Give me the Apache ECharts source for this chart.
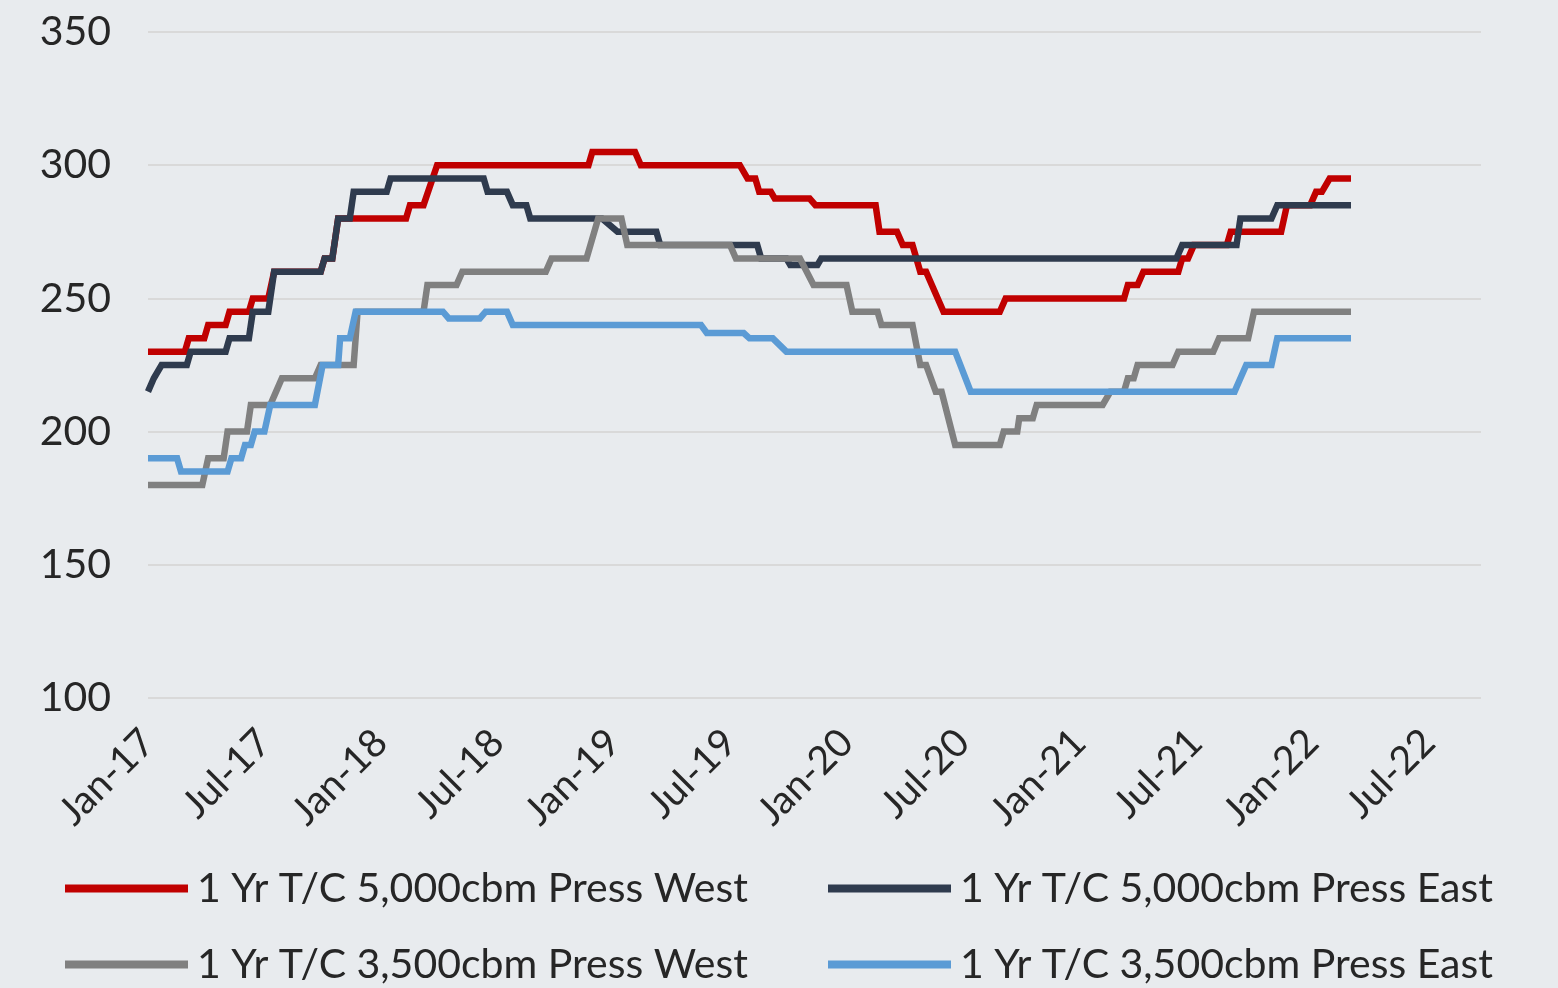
<!DOCTYPE html>
<html>
<head>
<meta charset="utf-8">
<script src="https://cdn.jsdelivr.net/npm/echarts@6/dist/echarts.min.js"></script>
<style>
html,body{margin:0;padding:0;background:#e8ebee;}
#chart{width:1558px;height:988px;}
</style>
</head>
<body>
<div id="chart"></div>
<script>
// x = months since Jan-2017
const xTickLabels = ['Jan-17','Jul-17','Jan-18','Jul-18','Jan-19','Jul-19','Jan-20','Jul-20','Jan-21','Jul-21','Jan-22','Jul-22'];
const seriesNames = ['1 Yr T/C 5,000cbm Press West','1 Yr T/C 5,000cbm Press East','1 Yr T/C 3,500cbm Press West','1 Yr T/C 3,500cbm Press East'];

const west5000 = [[0,230],[1.9,230],[2.1,235],[2.9,235],[3.1,240],[4.0,240],[4.2,245],[5.2,245],[5.4,250],[6.2,250],[6.5,260],[8.9,260],[9.1,265],[9.5,265],[9.8,280],[13.3,280],[13.5,285],[14.2,285],[14.9,300],[22.7,300],[22.9,305],[25.1,305],[25.4,300],[30.5,300],[30.9,295],[31.3,295],[31.5,290],[32.1,290],[32.3,287.5],[34.1,287.5],[34.4,285],[37.5,285],[37.7,275],[38.6,275],[38.9,270],[39.4,270],[39.8,260],[40.1,260],[41.0,245],[43.9,245],[44.2,250],[50.3,250],[50.5,255],[51.0,255],[51.3,260],[53.1,260],[53.3,265],[53.6,265],[53.9,270],[55.6,270],[55.8,275],[58.4,275],[58.7,285],[59.9,285],[60.2,290],[60.5,290],[60.9,295],[62,295]];

const east5000 = [[0,215],[0.3,220],[0.7,225],[2.0,225],[2.2,230],[4.0,230],[4.2,235],[5.2,235],[5.4,245],[6.2,245],[6.5,260],[8.9,260],[9.1,265],[9.5,265],[9.8,280],[10.4,280],[10.6,290],[12.3,290],[12.5,295],[17.3,295],[17.5,290],[18.5,290],[18.8,285],[19.5,285],[19.7,280],[23.4,280],[24.2,275],[26.2,275],[26.4,270],[31.4,270],[31.6,265],[32.9,265],[33.1,262.5],[34.5,262.5],[34.7,265],[53.0,265],[53.3,270],[56.1,270],[56.3,280],[57.9,280],[58.2,285],[62,285]];

const west3500 = [[0,180],[2.8,180],[3.1,190],[3.9,190],[4.1,200],[5.1,200],[5.3,210],[6.3,210],[6.6,215],[6.9,220],[8.6,220],[8.9,225],[10.6,225],[10.8,245],[14.2,245],[14.4,255],[15.9,255],[16.2,260],[20.5,260],[20.8,265],[22.6,265],[23.0,275],[23.2,280],[24.4,280],[24.7,270],[30.0,270],[30.3,265],[33.6,265],[34.3,255],[36.0,255],[36.3,245],[37.6,245],[37.8,240],[39.4,240],[39.8,225],[40.1,225],[40.6,215],[40.9,215],[41.6,195],[43.9,195],[44.1,200],[44.8,200],[44.9,205],[45.6,205],[45.8,210],[49.2,210],[49.6,215],[50.3,215],[50.5,220],[50.8,220],[51.0,225],[52.8,225],[53.1,230],[54.9,230],[55.2,235],[56.7,235],[57.0,245],[62,245]];

const east3500 = [[0,190],[1.5,190],[1.7,185],[4.1,185],[4.3,190],[4.8,190],[5.0,195],[5.3,195],[5.5,200],[6.0,200],[6.3,210],[8.6,210],[9.0,225],[9.8,225],[9.9,235],[10.4,235],[10.7,245],[15.2,245],[15.5,242.5],[17.1,242.5],[17.4,245],[18.5,245],[18.8,240],[28.5,240],[28.8,237],[30.7,237],[31.0,235],[32.2,235],[32.9,230],[41.6,230],[42.4,215],[56.0,215],[56.3,220],[56.6,225],[57.9,225],[58.2,235],[62,235]];

const colors = ['#c00000','#2f3b4e','#808080','#5b9bd5'];
const FONT = 'Lato';

const chart = echarts.init(document.getElementById('chart'), null, {renderer:'canvas'});
function legendAt(name, left, top){
  return {
    data:[name], left:left, top:top, orient:'horizontal', padding:0,
    icon:'rect', itemWidth:123, itemHeight:8,
    textStyle:{fontFamily:FONT, fontSize:41, color:'#262626', padding:[0,0,0,4]},
    selectedMode:false
  };
}
const dataSets = [west5000, east5000, west3500, east3500];
chart.setOption({
  backgroundColor:'#e8ebee',
  animation:false,
  color:colors,
  grid:{left:148, right:77, top:32, bottom:290, containLabel:false},
  legend:[
    legendAt(seriesNames[0], 65, 868),
    legendAt(seriesNames[1], 828, 868),
    legendAt(seriesNames[2], 65, 944),
    legendAt(seriesNames[3], 828, 944)
  ],
  xAxis:{
    type:'value', min:0, max:68.7, interval:6,
    axisLine:{show:false}, axisTick:{show:false}, splitLine:{show:false},
    axisLabel:{
      rotate:45, margin:38, fontFamily:FONT, fontSize:39, color:'#262626',
      showMaxLabel:false,
      formatter:function(v){ return (v % 6 === 0 && xTickLabels[v/6]) ? xTickLabels[v/6] : ''; }
    }
  },
  yAxis:{
    type:'value', min:100, max:350, interval:50,
    axisLine:{show:false}, axisTick:{show:false},
    splitLine:{lineStyle:{color:'#d9d9d9', width:2}},
    axisLabel:{margin:37, fontFamily:FONT, fontSize:41, color:'#262626'}
  },
  series: dataSets.map(function(d,i){
    return {
      name:seriesNames[i], type:'line', data:d, showSymbol:false, symbol:'none',
      lineStyle:{width:6.5, color:colors[i], join:'miter'},
      itemStyle:{color:colors[i]}, z:2+i
    };
  })
});
</script>
</body>
</html>
